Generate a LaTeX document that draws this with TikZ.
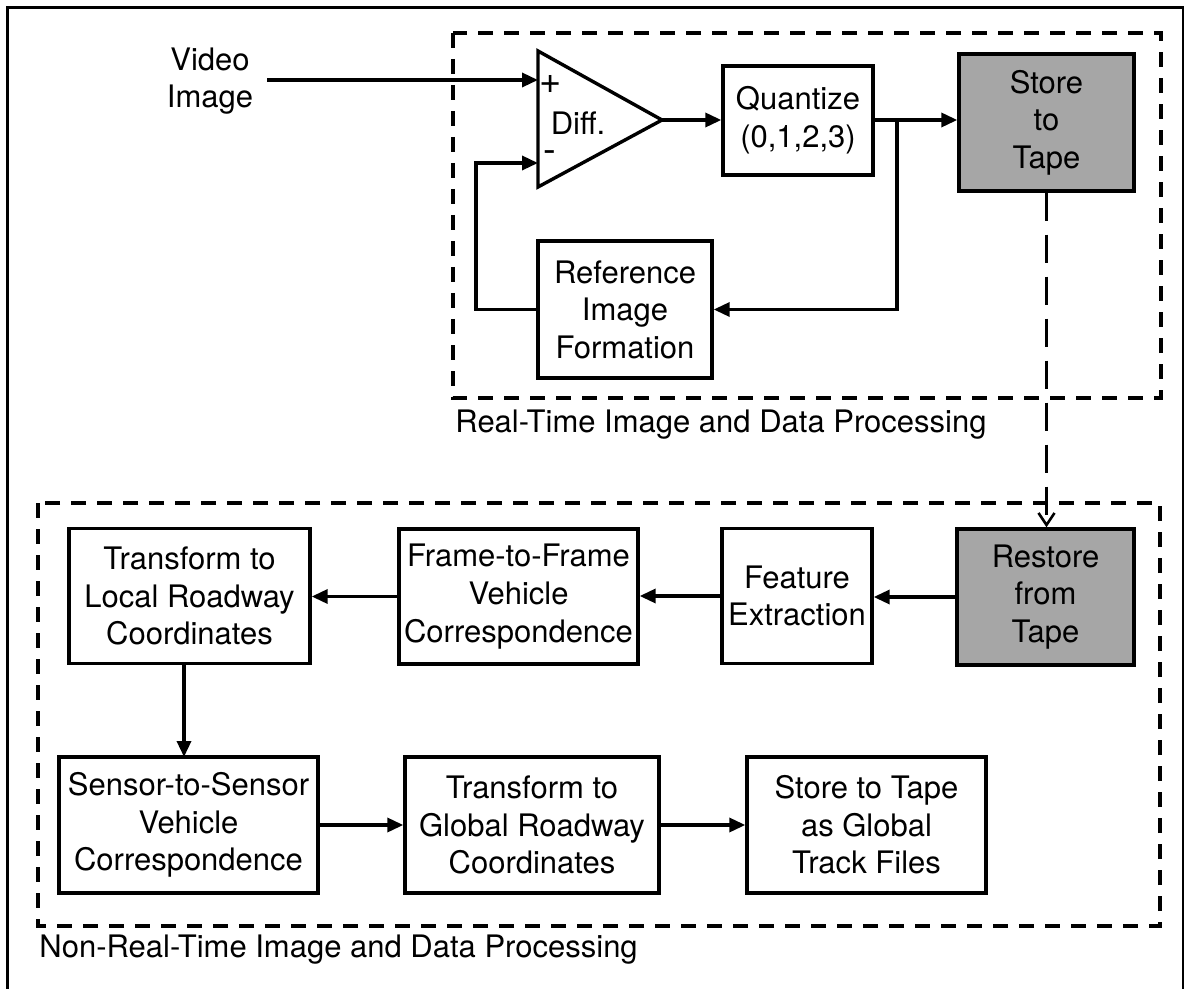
\documentclass[tikz,border=0pt]{standalone}
\usepackage{fontspec}
\setmainfont{TeX Gyre Heros}
\usetikzlibrary{arrows.meta}
\begin{document}
\begin{tikzpicture}[x=0.5pt,y=-0.5pt,
  every node/.style={font=\fontsize{15.5pt}{18.8pt}\selectfont},
  blk/.style={draw, line width=1.7pt, align=center, inner sep=0pt},
  shaded/.style={blk, fill=black!35},
  conn/.style={line width=1.7pt, -{Triangle[length=8pt,width=7pt]}},
  group/.style={line width=2pt, dash pattern=on 7.5pt off 5.5pt},
  tapeline/.style={line width=1.5pt, dash pattern=on 14pt off 7pt, -{Straight Barb[length=6pt,width=8pt,line width=1.3pt]}},
  frame/.style={line width=1.3pt},
  sign/.style={font=\fontsize{19pt}{19pt}\selectfont, inner sep=0pt},
  lbl/.style={anchor=west, inner sep=0pt}]
\useasboundingbox (0,0) rectangle (1187,989);
% outer frame (open at bottom)
\draw[frame] (7.5,989) -- (7.5,7.5) -- (1183,7.5) -- (1183,989);
% group boxes
\draw[group] (453,33) rectangle (1161,398);
\draw[group] (38,503) rectangle (1160,926);
\node[lbl] (rtlabel) at (455,425) {Real-Time Image and Data Processing};
\node[lbl] (nrtlabel) at (39,950) {Non-Real-Time Image and Data Processing};
% video input
\node[align=center, inner sep=0pt] (video) at (210,81) {Video\\Image};
\coordinate (vstart) at (267,80);
% difference amplifier
\coordinate (tl) at (538,51);
\coordinate (bl) at (538,187);
\coordinate (ap) at (662,120);
\coordinate (plusin) at (538,80);
\coordinate (minusin) at (538,163);
\draw[line width=1.7pt, line join=miter] (tl) -- (ap) -- (bl) -- cycle;
\node[sign] (plus) at (551,84) {+};
\node[sign] (minus) at (550,157) {-};
\node (diff) at (578,123) {Diff.};
% top row boxes
\node[blk, minimum width=75pt, minimum height=54.5pt] (quant) at (798,120.5) {Quantize\\(0,1,2,3)};
\node[shaded, minimum width=87.5pt, minimum height=68.5pt] (store) at (1046.5,122.5) {Store\\to\\Tape};
\node[blk, minimum width=87pt, minimum height=68.5pt] (ref) at (625,309.5) {Reference\\Image\\Formation};
% middle row
\node[shaded, minimum width=88.5pt, minimum height=68pt] (restore) at (1045.5,597) {Restore\\from\\Tape};
\node[blk, minimum width=75pt, minimum height=67.5pt] (feature) at (797,596) {Feature\\Extraction};
\node[blk, minimum width=119.5pt, minimum height=67.5pt] (frameb) at (518.5,596.5) {Frame-to-Frame\\Vehicle\\Correspondence};
\node[blk, minimum width=120.5pt, minimum height=67.5pt] (local) at (189.5,596) {Transform to\\Local Roadway\\Coordinates};
% bottom row
\node[blk, minimum width=129.5pt, minimum height=68pt] (sensor) at (188.5,825) {Sensor-to-Sensor\\Vehicle\\Correspondence};
\node[blk, minimum width=127pt, minimum height=68pt] (global) at (532,825) {Transform to\\Global Roadway\\Coordinates};
\node[blk, minimum width=119.5pt, minimum height=68pt] (files) at (866.5,825) {Store to Tape\\as Global\\Track Files};
% connectors
\draw[conn] (vstart) -- (plusin);
\draw[conn] (ap) -- (ap -| quant.west);
\draw[conn] (quant.east |- ap) -- (ap -| store.west);
\coordinate (branch) at (897,120);
\draw[conn] (branch) -- (897,309.5) -- (ref.east);
\draw[conn] (ref.west) -- (476,309.5) -- (476,163) -- (minusin);
\draw[tapeline] (store.south) -- (store.south |- restore.north);
\draw[conn] (restore.west) -- (feature.east |- restore.west);
\draw[conn] (feature.west) -- (frameb.east |- feature.west);
\draw[conn] (frameb.west) -- (local.east |- frameb.west);
\draw[conn] (184,663) -- (184,757);
\draw[conn] (sensor.east) -- (global.west |- sensor.east);
\draw[conn] (global.east) -- (files.west |- global.east);
\end{tikzpicture}
\end{document}
